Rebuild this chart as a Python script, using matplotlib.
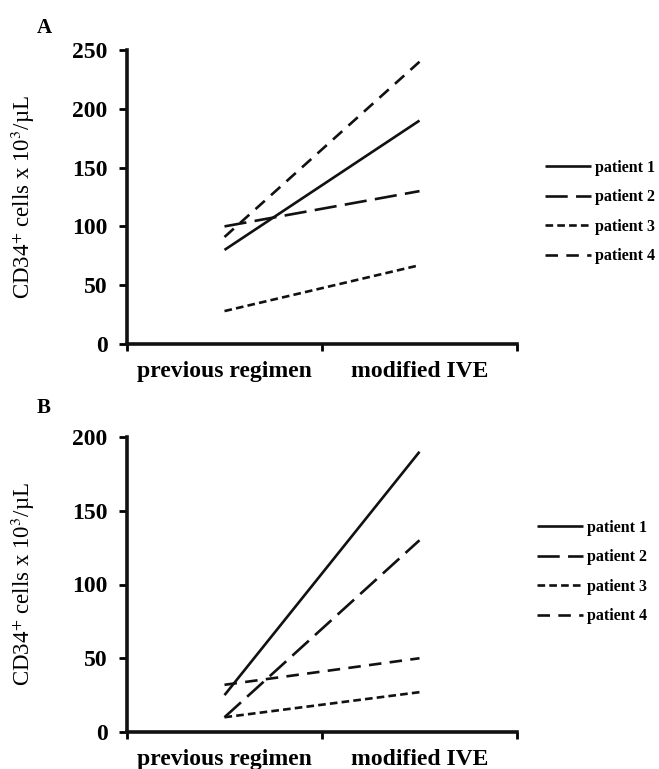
import numpy as np
import matplotlib
matplotlib.use('Agg')
from matplotlib import pyplot as plt

plt.rcParams['font.family'] = ['Liberation Serif', 'DejaVu Serif']
plt.rcParams['mathtext.fontset'] = 'stix'
plt.rcParams['lines.scale_dashes'] = False

categories = ['previous regimen', 'modified IVE']
patients = ['patient 1', 'patient 2', 'patient 3', 'patient 4']

# panel A values (previous, modified)
panel_a = {
    'patient 1': [80, 190],
    'patient 2': [100, 130],
    'patient 3': [28, 67],
    'patient 4': [91, 240],
}
# panel B values
panel_b = {
    'patient 1': [25, 190],
    'patient 2': [10, 130],
    'patient 3': [10, 27],
    'patient 4': [32, 50],
}

styles = {
    'patient 1': '-',
    'patient 2': (0, (16, 6)),
    'patient 3': (0, (5.5, 3)),
    'patient 4': (0, (9, 6)),
}

W, H = 659, 769
fig = plt.figure(figsize=(W / 100, H / 100), dpi=100)


def make_panel(rect, data, ymax, letter, letter_xy, leg_xy):
    ax = fig.add_axes(rect)
    xs = np.arange(len(categories)) + 0.5
    for p in patients:
        ax.plot(xs, data[p], color='#111111', lw=1.9, linestyle=styles[p],
                label=p, solid_capstyle='butt', dash_capstyle='butt')
    ax.set_xlim(0, 2)
    ax.set_ylim(0, ymax)
    ax.set_yticks(np.arange(0, ymax + 1, 50))
    ax.set_xticks(xs)
    ax.set_xticklabels(categories)
    ax.set_xticks([0, 1, 2], minor=True)
    ax.tick_params(axis='x', which='major', length=0, pad=12)
    ax.tick_params(axis='x', which='minor', length=5, width=2, direction='out')
    ax.tick_params(axis='y', length=6, width=2, direction='out', pad=8)
    for lab in ax.get_xticklabels() + ax.get_yticklabels():
        lab.set_fontweight('bold')
        lab.set_fontsize(17)
    for s in ['top', 'right']:
        ax.spines[s].set_visible(False)
    for s in ['left', 'bottom']:
        ax.spines[s].set_linewidth(2.6)
        ax.spines[s].set_color('#111111')
    ax.set_ylabel('CD34$^{+}$ cells x 10$^{3}$/\u00b5L', fontsize=16.5)
    ax.yaxis.set_label_coords((37 - rect[0] * W) / (rect[2] * W), 0.5)
    fig.text(letter_xy[0] / W, 1 - letter_xy[1] / H, letter, fontsize=15,
             fontweight='bold', ha='left', va='center')
    fig.legend(handles=ax.get_lines(), labels=patients, loc='center left',
               bbox_to_anchor=(leg_xy[0] / W, 1 - leg_xy[1] / H),
               frameon=False, prop={'weight': 'bold', 'size': 11.5},
               handlelength=2.85, handletextpad=0.25, labelspacing=0.85,
               borderpad=0, borderaxespad=0)
    return ax


make_panel([127 / W, 1 - 344 / H, 390 / W, 294 / H], panel_a, 250, 'A',
           (37, 28), (545, 212))
make_panel([127 / W, 1 - 732 / H, 390 / W, 295 / H], panel_b, 200, 'B',
           (37, 408), (537, 572))

plt.savefig('out.png', dpi=100)
